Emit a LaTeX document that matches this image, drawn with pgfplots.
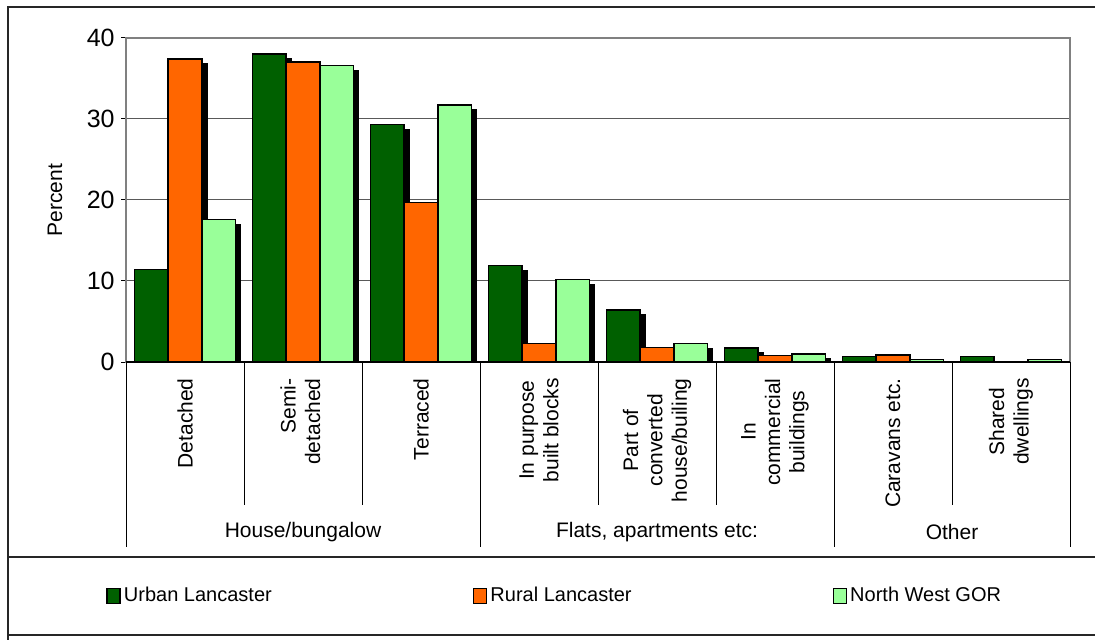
\documentclass[border=0pt]{standalone}
\usepackage{pgfplots}
\pgfplotsset{compat=1.18}
\usepackage{fontspec}
\setmainfont{Liberation Sans}
\definecolor{urban}{RGB}{0,96,0}
\definecolor{rural}{RGB}{255,102,0}
\definecolor{nwgor}{RGB}{153,255,153}
\pgfplotsset{shadowed/.style={preaction={fill=black, draw=black, transform canvas={xshift=2.5pt, yshift=-2.5pt}}}}
\begin{document}
\begin{tikzpicture}
\useasboundingbox (0,0) rectangle (547.5pt,-320pt);
\fill[white] (0,0) rectangle (547.5pt,-320pt);
\draw[line width=0.6pt, black!85] (4pt,-320pt) -- (4pt,-3.5pt) -- (547.5pt,-3.5pt);
\draw[line width=0.6pt, black!85] (4pt,-278.5pt) -- (547.5pt,-278.5pt);
\draw[line width=0.6pt, black!85] (4pt,-317.5pt) -- (547.5pt,-317.5pt);
\begin{axis}[
  at={(63pt,-181pt)}, anchor=south west,
  scale only axis, width=472pt, height=162pt,
  xmin=-0.5, xmax=7.5, ymin=0, ymax=40,
  ybar, bar width=0.2855,
  ytick={0,10,20,30,40},
  xtick={0,...,7},
  xticklabels={{Detached},{\begin{tabular}{@{}r@{}}Semi-\\detached\end{tabular}},{Terraced},{In purpose\\built blocks},{Part of\\converted\\house/builing},{In\\commercial\\buildings},{Caravans etc.},{Shared\\dwellings}},
  tick pos=left,
  major tick length=2.5pt, tick align=outside,
  x tick style={draw=none},
  y tick style={black, line width=0.5pt},
  xticklabel style={rotate=90, anchor=east, align=center, inner sep=0pt, font=\fontsize{10.5}{12.2}\selectfont},
  xticklabel shift=5.5pt,
  yticklabel style={inner sep=0pt, font=\fontsize{12.5}{14}\selectfont},
  yticklabel shift=3pt,
  /pgf/number format/assume math mode=true,
  ymajorgrids, grid style={black!65, line width=0.5pt},
  axis line style={black!50, line width=0.6pt},
  clip mode=individual,
  ylabel={Percent},
  every axis y label/.style={at={(axis description cs:-0.0752,0.5)}, rotate=90, anchor=center, font=\fontsize{10.5}{12}\selectfont},
  legend image code/.code={\draw[#1] (0pt,-3.75pt) rectangle (6.5pt,3.75pt);},
  legend columns=3,
  legend style={at={(axis description cs:-0.0212,-0.722)}, anchor=west, draw=none, inner sep=0pt, font=\fontsize{10}{12}\selectfont, nodes={inner sep=1.5pt}, /tikz/every even column/.append style={column sep=99pt}},
  legend entries={Urban Lancaster, Rural Lancaster, North West GOR},
]
\addlegendimage{fill=urban, draw=black, line width=0.8pt}
\addlegendimage{fill=rural, draw=black, line width=0.8pt}
\addlegendimage{fill=nwgor, draw=black, line width=0.8pt}
\addplot[fill=urban, draw=black, line width=0.8pt, bar shift=-0.2855, shadowed, forget plot] coordinates {(0,11.4) (1,38.05) (2,29.3) (3,11.9) (4,6.4) (5,1.7) (6,0.7) (7,0.7)};
\addplot[fill=rural, draw=black, line width=0.8pt, bar shift=0, shadowed, forget plot] coordinates {(0,37.4) (1,37.0) (2,19.7) (3,2.3) (4,1.8) (5,0.8) (6,0.9) (7,0)};
\addplot[fill=nwgor, draw=black, line width=0.8pt, bar shift=0.2855, shadowed, forget plot] coordinates {(0,17.6) (1,36.6) (2,31.7) (3,10.2) (4,2.3) (5,1.0) (6,0.3) (7,0.3)};
\draw[black, line width=0.6pt] (axis cs:-0.5,0) -- (axis cs:7.5,0);
\draw[black, line width=0.5pt] (axis cs:0.5,0) -- ++(0pt,-71.5pt);
\draw[black, line width=0.5pt] (axis cs:1.5,0) -- ++(0pt,-71.5pt);
\draw[black, line width=0.5pt] (axis cs:3.5,0) -- ++(0pt,-71.5pt);
\draw[black, line width=0.5pt] (axis cs:4.5,0) -- ++(0pt,-71.5pt);
\draw[black, line width=0.5pt] (axis cs:6.5,0) -- ++(0pt,-71.5pt);
\draw[black, line width=0.5pt] (axis cs:-0.5,0) -- ++(0pt,-92.5pt);
\draw[black, line width=0.5pt] (axis cs:2.5,0) -- ++(0pt,-92.5pt);
\draw[black, line width=0.5pt] (axis cs:5.5,0) -- ++(0pt,-92.5pt);
\draw[black, line width=0.5pt] (axis cs:7.5,0) -- ++(0pt,-92.5pt);
\node[font=\fontsize{10.5}{12}\selectfont] at (axis cs:1,0) [yshift=-85pt] {House/bungalow};
\node[font=\fontsize{10.5}{12}\selectfont] at (axis cs:4,0) [yshift=-85pt] {Flats, apartments etc:};
\node[font=\fontsize{10.5}{12}\selectfont] at (axis cs:6.5,0) [yshift=-85pt] {Other};
\end{axis}
\end{tikzpicture}
\end{document}
